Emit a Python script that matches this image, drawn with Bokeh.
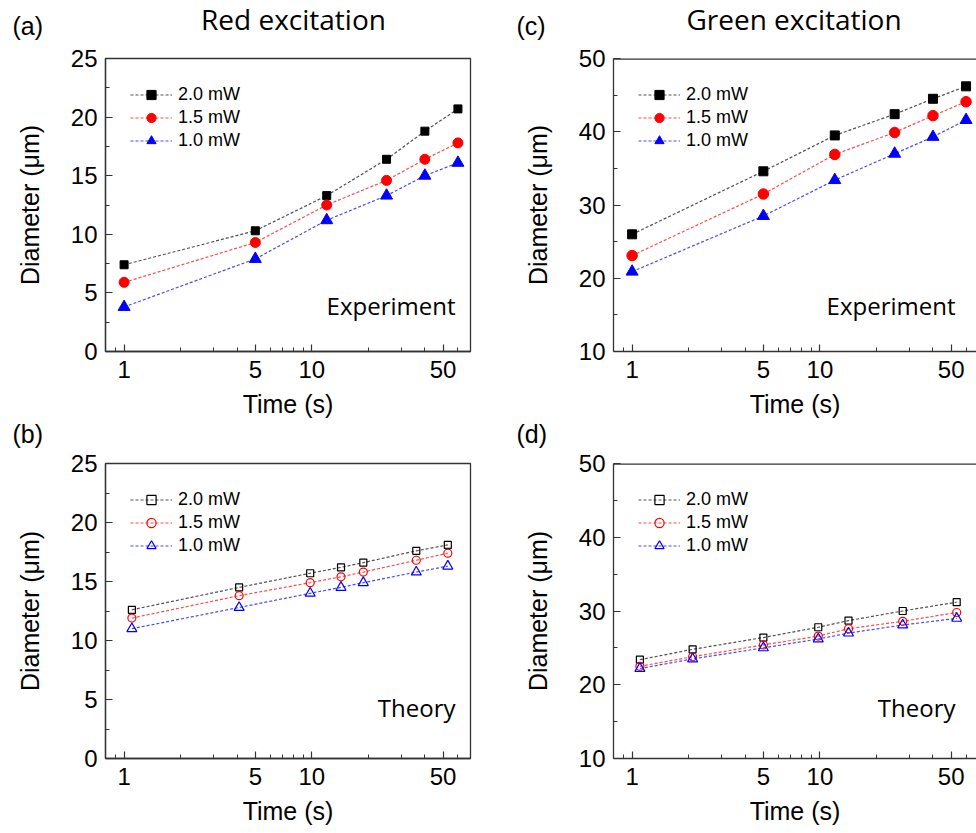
from bokeh.plotting import figure
from bokeh.layouts import column, row
from bokeh.models import (Range1d, FixedTicker, BasicTickFormatter, Legend,
                          LegendItem, Label, Span, Plot)
from bokeh.embed import file_html
from bokeh.resources import INLINE

# ---------------- data ----------------
series_labels = ["2.0 mW", "1.5 mW", "1.0 mW"]
x_ticks = [1, 5, 10, 50]
x_minor = [0.9, 2, 3, 4, 6, 7, 8, 9, 20, 30, 40, 60, 70]
y_ticks_red = [0, 5, 10, 15, 20, 25]
y_minor_red = [2.5, 7.5, 12.5, 17.5, 22.5]
y_ticks_green = [10, 20, 30, 40, 50]
y_minor_green = [15, 25, 35, 45]

# (a) Red excitation, experiment
a_time = [1, 5, 12, 25, 40, 60]
a_20 = [7.4, 10.3, 13.3, 16.4, 18.8, 20.7]
a_15 = [5.9, 9.3, 12.5, 14.6, 16.4, 17.8]
a_10 = [3.8, 7.9, 11.2, 13.3, 15.0, 16.1]

# (c) Green excitation, experiment
c_time = [1, 5, 12, 25, 40, 60]
c_20 = [26.0, 34.6, 39.5, 42.4, 44.5, 46.2]
c_15 = [23.1, 31.5, 36.9, 39.9, 42.2, 44.1]
c_10 = [20.9, 28.5, 33.4, 37.0, 39.3, 41.6]

# (b) Red excitation, theory
b_time = [1.1, 4.1, 9.8, 14.3, 18.8, 36, 53]
b_20 = [12.6, 14.5, 15.7, 16.2, 16.6, 17.6, 18.1]
b_15 = [11.9, 13.8, 14.9, 15.4, 15.8, 16.8, 17.4]
b_10 = [11.0, 12.8, 14.0, 14.5, 14.9, 15.8, 16.3]

# (d) Green excitation, theory
d_time = [1.1, 2.1, 5.0, 9.8, 14.2, 27.6, 53.5]
d_20 = [23.4, 24.8, 26.4, 27.8, 28.7, 30.0, 31.2]
d_15 = [22.5, 23.8, 25.4, 26.6, 27.6, 28.6, 29.8]
d_10 = [22.2, 23.5, 25.0, 26.2, 27.0, 28.1, 29.0]

# ---------------- style ----------------
FONT = "Liberation Sans"
TFONT = "Open Sans"
AXC = "#333333"
line_colors = ["#505050", "#ff4a4a", "#4a4aff"]
marker_colors = ["#000000", "#ff0000", "#0000ff"]
markers = ["square", "circle", "triangle"]


def strip(width, height, texts):
    s = Plot(width=width, height=height, min_border=0, toolbar_location=None,
             outline_line_color=None, output_backend="svg", title=None,
             x_range=Range1d(0, 1), y_range=Range1d(0, 1),
             background_fill_color="white", border_fill_color="white")
    for txt, x, y, align, font, size in texts:
        s.add_layout(Label(x=x, y=y, x_units="screen", y_units="screen",
                           text=txt, text_align=align,
                           text_baseline="alphabetic", text_font=font,
                           text_font_size=size, text_color="black"))
    return s


def panel(times, ys, yr, yticks, yminor, fw, fh, bl, br, bt, bb, xend,
          filled, sizes, note, note_x, note_y, right_col=False):
    p = figure(x_axis_type="log", x_range=Range1d(0.796, xend),
               y_range=Range1d(*yr), frame_width=fw, frame_height=fh,
               min_border_left=bl, min_border_right=br,
               min_border_top=bt, min_border_bottom=bb,
               output_backend="svg", toolbar_location=None,
               background_fill_color="white", border_fill_color="white")
    p.xgrid.visible = False
    p.ygrid.visible = False

    items = []
    for i in range(3):
        lr = p.line(times, ys[i], line_color=line_colors[i], line_width=1.2,
                    line_dash="3 2")
        if filled:
            sr = p.scatter(times, ys[i], marker=markers[i], size=sizes[i],
                           fill_color=marker_colors[i],
                           line_color=marker_colors[i], line_width=1)
        else:
            sr = p.scatter(times, ys[i], marker=markers[i], size=sizes[i],
                           fill_color=None, line_color=marker_colors[i],
                           line_width=1.2)
        items.append(LegendItem(label=series_labels[i], renderers=[lr, sr]))

    leg = Legend(items=items, location="top_left", margin=0, padding=25,
                 spacing=0, glyph_width=42, glyph_height=23, label_height=23,
                 label_standoff=6, label_text_font=FONT,
                 label_text_font_size="18px", label_text_color="black",
                 background_fill_alpha=0, border_line_alpha=0)
    p.add_layout(leg)

    for ax in (p.xaxis[0], p.yaxis[0]):
        ax.axis_line_color = AXC
        ax.axis_line_width = 1.3
        ax.major_tick_in = 7
        ax.major_tick_out = 0
        ax.minor_tick_in = 4
        ax.minor_tick_out = 0
        ax.major_tick_line_color = AXC
        ax.minor_tick_line_color = AXC
        ax.major_tick_line_width = 1.2
        ax.minor_tick_line_width = 1.0
        ax.major_label_text_font = FONT
        ax.major_label_text_font_size = "24px"
        ax.major_label_text_color = "black"
        ax.axis_label_text_font = FONT
        ax.axis_label_text_font_size = "25px"
        ax.axis_label_text_font_style = "normal"
        ax.axis_label_text_color = "black"

    p.xaxis.ticker = FixedTicker(ticks=x_ticks, minor_ticks=x_minor)
    p.xaxis.formatter = BasicTickFormatter()
    p.yaxis.ticker = FixedTicker(ticks=yticks, minor_ticks=yminor)
    p.xaxis.axis_label = "Time (s)"
    p.yaxis.axis_label = "Diameter (μm)"
    p.xaxis.major_label_standoff = 9
    p.xaxis.axis_label_standoff = 9
    p.yaxis.major_label_standoff = 8
    p.yaxis.axis_label_standoff = 24

    if right_col:
        # open right edge (cut at the picture border); draw the top edge only
        p.outline_line_color = None
        p.add_layout(Span(location=yr[1], dimension="width", line_color=AXC,
                          line_width=2.6))
    else:
        p.outline_line_color = AXC
        p.outline_line_width = 1.3
        p.outline_line_alpha = 1

    p.add_layout(Label(x=note_x, y=note_y, x_units="screen",
                       y_units="screen", text=note, text_align="right",
                       text_baseline="alphabetic", text_font=TFONT,
                       text_font_size="24px", text_color="black"))
    return p


# header strips (panel tags and column titles)
sa = strip(490, 44, [("(a)", 12, 18.5, "left", FONT, "25px"),
                     ("Red excitation", 293, 26, "center", TFONT, "28px")])
sc = strip(486, 44, [("(c)", 26, 18.5, "left", FONT, "25px"),
                     ("Green excitation", 303.5, 25.6, "center", TFONT, "28px")])
sb = strip(490, 30, [("(b)", 12, 16.5, "left", FONT, "25px")])
sd = strip(486, 30, [("(d)", 26, 16.5, "left", FONT, "25px")])

pa = panel(a_time, [a_20, a_15, a_10], (0, 25), y_ticks_red, y_minor_red,
           365, 293, 105, 20, 14, 69, 70.0, True, [8, 10, 12],
           "Experiment", 350, 46)
pc = panel(c_time, [c_20, c_15, c_10], (10, 50), y_ticks_green, y_minor_green,
           363, 293, 123, 0, 14, 69, 68.2, True, [9, 10.5, 12],
           "Experiment", 342, 46, right_col=True)
pb = panel(b_time, [b_20, b_15, b_10], (0, 25), y_ticks_red, y_minor_red,
           365, 295, 105, 20, 13, 72, 70.0, False, [7, 8, 10],
           "Theory", 350, 51)
pd_ = panel(d_time, [d_20, d_15, d_10], (10, 50), y_ticks_green, y_minor_green,
            363, 295, 123, 0, 13, 72, 68.2, False, [7, 8, 10],
            "Theory", 342, 51, right_col=True)

layout = column(row(sa, sc), row(pa, pc), row(sb, sd), row(pb, pd_))

open("out.html", "w").write(file_html(layout, INLINE))
